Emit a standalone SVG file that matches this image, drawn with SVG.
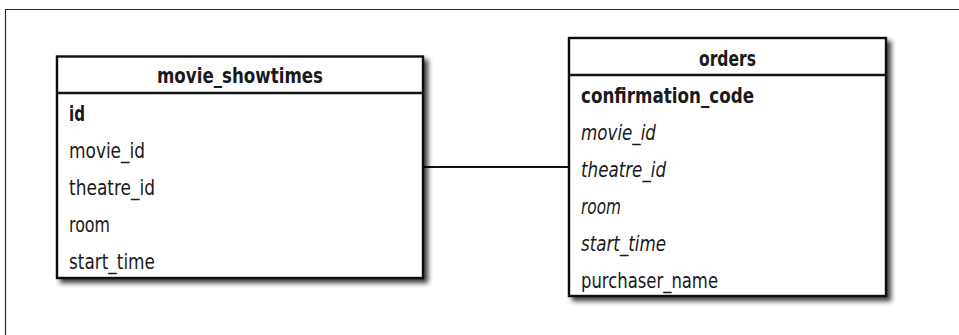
<svg xmlns="http://www.w3.org/2000/svg" width="959" height="335" viewBox="0 0 959 335">
  <defs>
    <filter id="shadow" x="-10%" y="-10%" width="125%" height="125%">
      <feDropShadow dx="4" dy="4" stdDeviation="2.4" flood-color="#000" flood-opacity="0.75"/>
    </filter>
    <style>
      .frame { fill: none; stroke: #2a2a2a; stroke-width: 1.2; }
      .box { fill: #fff; stroke: #111; stroke-width: 2.4; }
      .sep { stroke: #111; stroke-width: 2.4; }
      .edge { fill: none; stroke: #111; stroke-width: 2; }
      text { font-family: "Liberation Sans Narrow", "DejaVu Sans Condensed", "Liberation Sans", sans-serif; fill: #1a1a1a; font-size: 21.5px; }
      .title { font-weight: bold; text-anchor: middle; }
      .pk { font-weight: bold; }
      .fk { font-style: italic; }
    </style>
  </defs>

  <!-- page frame -->
  <path class="frame" d="M5.5,335 V9.5 H959"/>

  <!-- connectors -->
  <g id="connectors">
    <line class="edge" x1="423" y1="167" x2="569" y2="167"/>
  </g>

  <!-- movie_showtimes table -->
  <g id="movie_showtimes">
    <rect class="box" x="57" y="56.5" width="366" height="221.5" filter="url(#shadow)"/>
    <line class="sep" x1="57" y1="93" x2="423" y2="93"/>
    <text class="title" x="240" y="83" textLength="166" lengthAdjust="spacingAndGlyphs">movie_showtimes</text>
    <text class="pk" x="69" y="121" textLength="16" lengthAdjust="spacingAndGlyphs">id</text>
    <text x="69" y="158" textLength="76" lengthAdjust="spacingAndGlyphs">movie_id</text>
    <text x="69" y="195" textLength="86" lengthAdjust="spacingAndGlyphs">theatre_id</text>
    <text x="69" y="232" textLength="41" lengthAdjust="spacingAndGlyphs">room</text>
    <text x="69" y="269" textLength="86" lengthAdjust="spacingAndGlyphs">start_time</text>
  </g>

  <!-- orders table -->
  <g id="orders">
    <rect class="box" x="569" y="38" width="317" height="258" filter="url(#shadow)"/>
    <line class="sep" x1="569" y1="75" x2="886" y2="75"/>
    <text class="title" x="727.5" y="66" textLength="57" lengthAdjust="spacingAndGlyphs">orders</text>
    <text class="pk" x="581" y="103" textLength="173" lengthAdjust="spacingAndGlyphs">confirmation_code</text>
    <text class="fk" x="581" y="140" textLength="75" lengthAdjust="spacingAndGlyphs">movie_id</text>
    <text class="fk" x="581" y="177" textLength="85" lengthAdjust="spacingAndGlyphs">theatre_id</text>
    <text class="fk" x="581" y="214" textLength="40" lengthAdjust="spacingAndGlyphs">room</text>
    <text class="fk" x="581" y="251" textLength="85" lengthAdjust="spacingAndGlyphs">start_time</text>
    <text x="581" y="288" textLength="137" lengthAdjust="spacingAndGlyphs">purchaser_name</text>
  </g>
</svg>
